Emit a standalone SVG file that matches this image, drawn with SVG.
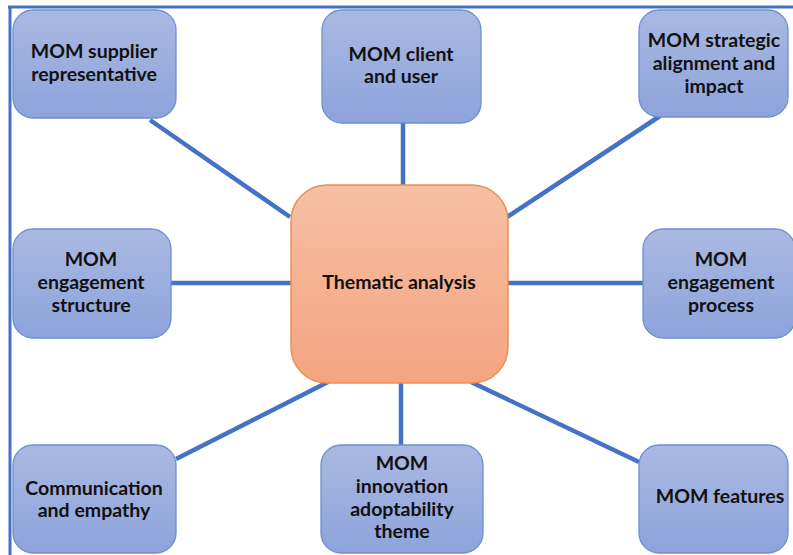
<svg xmlns="http://www.w3.org/2000/svg" width="793" height="555" viewBox="0 0 793 555">
<defs>
<linearGradient id="gBlue" x1="0" y1="0" x2="0" y2="1">
<stop offset="0" stop-color="#AAB9E2"/>
<stop offset="1" stop-color="#8DA3DB"/>
</linearGradient>
<linearGradient id="gOrange" x1="0" y1="0" x2="0" y2="1">
<stop offset="0" stop-color="#F6C0A4"/>
<stop offset="1" stop-color="#F4A480"/>
</linearGradient>
<style>
.frame{stroke:#4472C4;stroke-width:3;fill:none}
.conn line{stroke:#4472C4;stroke-width:4.5}
.bn{fill:url(#gBlue);stroke:#6E8ED2;stroke-width:1.3}
.cn{fill:url(#gOrange);stroke:#EE8D50;stroke-width:1.5}
text{font-family:Lato,"Open Sans","Liberation Sans",sans-serif;font-weight:bold;font-size:19.5px;fill:#111;text-anchor:middle}
</style>
</defs>
<rect width="793" height="555" fill="#ffffff"/>
<path class="frame" d="M8 7 H793 M10 7 V555"/>
<g id="connectors" class="conn">
<line x1="150" y1="120" x2="290" y2="217"/>
<line x1="403" y1="122" x2="403" y2="186"/>
<line x1="660" y1="116" x2="507" y2="217"/>
<line x1="170" y1="283" x2="292" y2="283"/>
<line x1="507" y1="283" x2="644" y2="283"/>
<line x1="176" y1="459" x2="328" y2="382"/>
<line x1="401" y1="382" x2="401" y2="446"/>
<line x1="471" y1="382" x2="639" y2="462"/>
</g>
<g id="n-supplier">
<rect class="bn" x="13" y="10" width="163" height="108" rx="20"/>
<text x="94" y="58">MOM supplier</text>
<text x="94" y="81">representative</text>
</g>
<g id="n-client">
<rect class="bn" x="322" y="10" width="159" height="113" rx="20"/>
<text x="401" y="61">MOM client</text>
<text x="401" y="83">and user</text>
</g>
<g id="n-strategic">
<rect class="bn" x="639" y="10" width="149" height="107" rx="20"/>
<text x="714" y="47">MOM strategic</text>
<text x="714" y="70">alignment and</text>
<text x="714" y="93">impact</text>
</g>
<g id="n-structure">
<rect class="bn" x="13" y="229" width="158" height="109" rx="20"/>
<text x="91" y="266">MOM</text>
<text x="91" y="289">engagement</text>
<text x="91" y="312">structure</text>
</g>
<g id="n-center">
<rect class="cn" x="291" y="185" width="217" height="198" rx="36"/>
<text x="399" y="289">Thematic analysis</text>
</g>
<g id="n-process">
<rect class="bn" x="643" y="229" width="152" height="109" rx="20"/>
<text x="721" y="266">MOM</text>
<text x="721" y="289">engagement</text>
<text x="721" y="312">process</text>
</g>
<g id="n-communication">
<rect class="bn" x="13" y="445" width="163" height="108" rx="20"/>
<text x="94" y="495">Communication</text>
<text x="94" y="517">and empathy</text>
</g>
<g id="n-innovation">
<rect class="bn" x="321" y="445" width="162" height="108" rx="20"/>
<text x="402" y="470">MOM</text>
<text x="402" y="493">innovation</text>
<text x="402" y="516">adoptability</text>
<text x="402" y="538">theme</text>
</g>
<g id="n-features">
<rect class="bn" x="639" y="445" width="149" height="108" rx="20"/>
<text x="720" y="503">MOM features</text>
</g>
</svg>
